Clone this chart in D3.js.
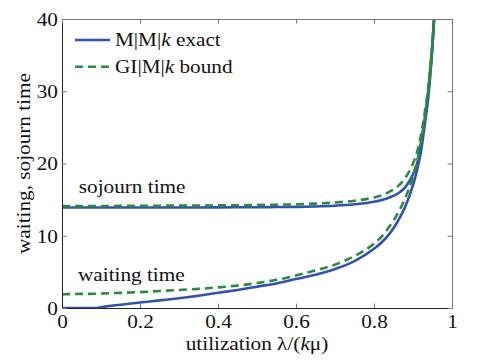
<!DOCTYPE html>
<meta charset='utf-8'>
<style>
    body { margin: 0; background: #fff; }
</style>
<body>
<script src='https://cdn.jsdelivr.net/npm/d3@7'></script>
<script>
// utilization lambda/(k mu)
const util = [0, 0.05, 0.09, 0.1, 0.15, 0.2, 0.25, 0.3, 0.35, 0.4, 0.45, 0.5, 0.55, 0.6, 0.65,
              0.7, 0.75, 0.8, 0.82, 0.84, 0.86, 0.88, 0.9, 0.91, 0.92, 0.93, 0.94, 0.95, 0.955];
const waitExact = [0, 0, 0, 0.1, 0.45, 0.75, 1.05, 1.35, 1.7, 2.1, 2.5, 2.95, 3.4, 4.0, 4.6,
                   5.4, 6.5, 8.2, 9.1, 10.3, 11.9, 14.0, 17.0, 19.0, 21.5, 25.3, 29.5, 36.5, 41];
const sojournExact = [13.9, 13.9, 13.9, 13.9, 13.9, 13.9, 13.9, 13.9, 13.92, 13.93, 13.94, 13.95, 13.98, 14.0, 14.05,
                      14.15, 14.35, 14.7, 14.95, 15.3, 15.8, 16.7, 18.5, 19.9, 22.5, 26, 30.5, 36.5, 40.5];
const waitBound = [1.9, 1.95, 1.98, 2.0, 2.1, 2.2, 2.35, 2.5, 2.65, 2.85, 3.1, 3.45, 3.9, 4.5, 5.2,
                   6.0, 7.2, 8.9, 9.9, 11.3, 13.0, 15.2, 18.2, 20.2, 22.8, 26.2, 30.3, 36.5, 41];
const sojournBound = [14.1, 14.1, 14.11, 14.12, 14.13, 14.15, 14.16, 14.17, 14.18, 14.2, 14.22, 14.25, 14.3, 14.35, 14.45,
                      14.6, 14.85, 15.3, 15.6, 16.1, 16.8, 18.0, 20.0, 21.5, 23.8, 27, 31, 37, 41];
const xTicks = [0, 0.2, 0.4, 0.6, 0.8, 1];
const yTicks = [0, 10, 20, 30, 40];

const series = [
    { name: 'wait exact', values: waitExact, kind: 'exact' },
    { name: 'sojourn exact', values: sojournExact, kind: 'exact' },
    { name: 'wait bound', values: waitBound, kind: 'bound' },
    { name: 'sojourn bound', values: sojournBound, kind: 'bound' }
];

const styles = {
    exact: { color: '#3152b0', dash: null },
    bound: { color: '#2b8a3c', dash: '8,5' }
};

let margin = { top: 19, right: 46, bottom: 54, left: 62 },
    width = 498 - margin.left - margin.right,
    height = 362 - margin.top - margin.bottom;

const fs = 18, sx = 1.18; // font looks horizontally stretched in the original
const serif = '"Liberation Serif", "Times New Roman", serif';
const ink = '#111';

let svg = d3.select('body').append('svg')
    .attr('width', 498).attr('height', 362)
    .append('g')
    .attr('transform', `translate(${margin.left},${margin.top})`);

let x = d3.scaleLinear().domain([0, 1]).range([0, width]);
let y = d3.scaleLinear().domain([0, 40]).range([height, 0]);

svg.append('defs').append('clipPath').attr('id', 'clip')
    .append('rect').attr('width', width).attr('height', height);

// Curves
let line = d3.line()
    .x((d, i) => x(util[i]))
    .y(d => y(d))
    .curve(d3.curveMonotoneX);

svg.append('g').attr('clip-path', 'url(#clip)')
    .selectAll('path')
    .data(series)
    .enter().append('path')
        .attr('d', d => line(d.values))
        .attr('fill', 'none')
        .attr('stroke', d => styles[d.kind].color)
        .attr('stroke-width', 2.6)
        .attr('stroke-dasharray', d => styles[d.kind].dash);

// Axes box
const tick = 4.5;
function styleAxis(g, col) {
    g.select('.domain').attr('stroke', col);
    g.selectAll('.tick line').attr('stroke', '#777');
}
function styleTicks(g, dy) {
    g.selectAll('text')
        .attr('font-size', fs)
        .style('font-family', serif)
        .attr('fill', ink)
        .attr('dy', dy)
        .attr('transform', `scale(${sx},1)`);
}
svg.append('g').attr('transform', `translate(0,${height})`)
    .call(d3.axisBottom(x).tickValues(xTicks).tickSizeInner(-tick).tickSizeOuter(0).tickPadding(12)
        .tickFormat(d => d))
    .call(g => styleAxis(g, '#222'))
    .call(g => styleTicks(g, '0.45em'));

svg.append('g')
    .call(d3.axisLeft(y).tickValues(yTicks).tickSizeInner(-tick).tickSizeOuter(0).tickPadding(3.5))
    .call(g => styleAxis(g, '#222'))
    .call(g => styleTicks(g, '0.36em'));

svg.append('g')
    .call(d3.axisTop(x).tickValues(xTicks).tickSizeInner(-tick).tickSizeOuter(0).tickFormat(''))
    .call(g => styleAxis(g, '#777'));

svg.append('g').attr('transform', `translate(${width},0)`)
    .call(d3.axisRight(y).tickValues(yTicks).tickSizeInner(-tick).tickSizeOuter(0).tickFormat(''))
    .call(g => styleAxis(g, '#777'));

// Helper for stretched text
function label(px, py, parts, rot) {
    let t = svg.append('text')
        .attr('transform', `translate(${px},${py})` + (rot ? ` rotate(${rot})` : '') + ` scale(${sx},1)`)
        .attr('font-size', fs)
        .attr('fill', ink)
        .style('font-family', serif);
    parts.forEach(p => {
        t.append('tspan').attr('font-style', p[1] ? 'italic' : null).text(p[0]);
    });
    return t;
}

// Curve labels
label(x(0.043), y(15.9), [['sojourn time']]);
label(x(0.041), y(3.7), [['waiting time']]);

// Axis labels
label(width / 2, height + 42, [['utilization λ/('], ['k', true], ['μ)']])
    .attr('text-anchor', 'middle');
label(-32, height / 2, [['waiting, sojourn time']], -90)
    .attr('text-anchor', 'middle');

// Legend
const legendItems = [
    { kind: 'exact', parts: [['M|M|'], ['k', true], [' exact']] },
    { kind: 'bound', parts: [['GI|M|'], ['k', true], [' bound']] }
];
legendItems.forEach((d, i) => {
    let ly = 21 + i * 26.7;
    svg.append('line')
        .attr('x1', 13).attr('x2', 48)
        .attr('y1', ly).attr('y2', ly)
        .attr('stroke', styles[d.kind].color)
        .attr('stroke-width', 2.6)
        .attr('stroke-dasharray', styles[d.kind].dash);
    label(53, ly + 6.3, d.parts);
});
</script>
</body>
